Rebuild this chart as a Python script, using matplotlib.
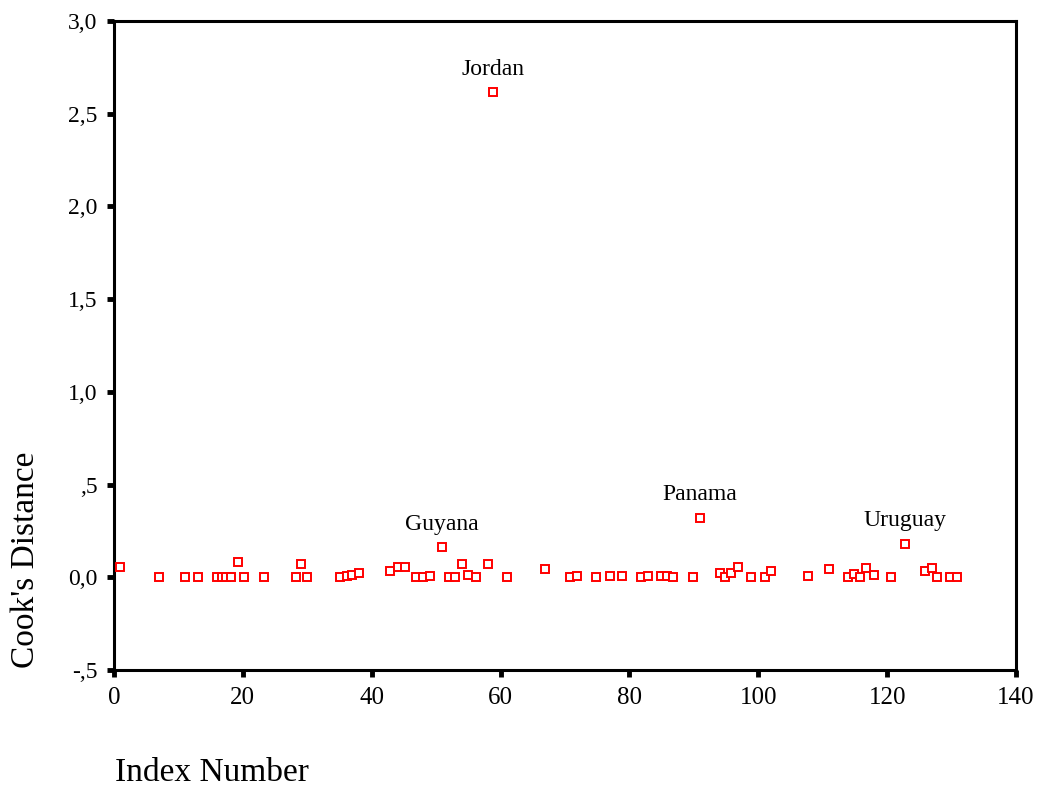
import matplotlib
matplotlib.use("Agg")
import matplotlib.pyplot as plt

# Cook's distance per case index
index_number = [1, 7, 11, 13, 16, 16.8, 17.4, 18.1, 19.3, 20.2, 23.3, 28.2, 29.1, 30,
                35, 36.1, 37, 38, 42.8, 44.1, 45.2, 46.8, 48, 49.1, 50.9, 52, 53, 54,
                54.9, 56.2, 58, 58.9, 61, 66.9, 70.7, 71.8, 74.8, 77, 78.8, 81.8, 82.9,
                84.9, 85.9, 86.8, 89.8, 90.9, 94, 94.9, 95.8, 96.9, 98.8, 101, 101.9,
                107.7, 110.9, 113.9, 114.8, 115.8, 116.7, 117.9, 120.6, 122.8, 125.9,
                126.9, 127.7, 129.8, 130.8]
cooks_distance = [0.054, 0.004, 0.0, 0.0, 0.0, 0.0, 0.0, 0.0, 0.083, 0.0, 0.0, 0.004, 0.074, 0.0,
                  0.0, 0.005, 0.013, 0.024, 0.035, 0.054, 0.054, 0.0, 0.0, 0.005, 0.162, 0.0, 0.0, 0.072,
                  0.015, 0.0, 0.072, 2.616, 0.0, 0.045, 0.0, 0.008, 0.0, 0.008, 0.008, 0.0, 0.008,
                  0.008, 0.008, 0.0, 0.0, 0.321, 0.024, 0.0, 0.024, 0.054, 0.0, 0.0, 0.036,
                  0.005, 0.045, 0.0, 0.016, 0.0, 0.049, 0.013, 0.0, 0.181, 0.036,
                  0.049, 0.004, 0.004, 0.0]

# Named influential cases
labelled_cases = ["Jordan", "Guyana", "Panama", "Uruguay"]
labelled_index = [58.9, 50.9, 90.9, 122.8]

y_ticks = [-0.5, 0.0, 0.5, 1.0, 1.5, 2.0, 2.5, 3.0]
y_tick_labels = ["-,5", "0,0", ",5", "1,0", "1,5", "2,0", "2,5", "3,0"]
x_ticks = [0, 20, 40, 60, 80, 100, 120, 140]

serif = ["Liberation Serif", "DejaVu Serif"]

fig = plt.figure(figsize=(10.42, 7.87), dpi=100)
ax = fig.add_axes([114 / 1042, 1 - 670 / 787, (1016 - 114) / 1042, (670 - 21) / 787])

ax.plot(index_number, cooks_distance, linestyle="none", marker="s",
        markersize=6.3, markerfacecolor="white", markeredgecolor="#ff0000",
        markeredgewidth=1.4, clip_on=False, zorder=3)

for name, xi in zip(labelled_cases, labelled_index):
    yi = cooks_distance[index_number.index(xi)]
    ax.annotate(name, (xi, yi), xytext=(0, 16.5), textcoords="offset points",
                ha="center", va="center", fontsize=17, family=serif, color="black")

ax.set_xlim(0, 140)
ax.set_ylim(-0.5, 3.0)
ax.set_xticks(x_ticks)
ax.set_xticklabels([str(v) for v in x_ticks])
ax.set_yticks(y_ticks)
ax.set_yticklabels(y_tick_labels)

for spine in ax.spines.values():
    spine.set_linewidth(2.2)
    spine.set_color("black")

ax.tick_params(axis="both", direction="out", length=5, width=3.5, color="black")
ax.tick_params(axis="y", labelsize=17, pad=7)
ax.tick_params(axis="x", labelsize=18, pad=7)
for lab in ax.get_xticklabels() + ax.get_yticklabels():
    lab.set_family(serif)

fig.text(26 / 1042, 1 - 560 / 787, "Cook's Distance", rotation=90, ha="center",
         va="center", fontsize=24, family=serif)
fig.text(115 / 1042, 1 - 773 / 787, "Index Number", ha="left", va="center",
         fontsize=24, family=serif)

fig.savefig("out.png", dpi=100, facecolor="white")
